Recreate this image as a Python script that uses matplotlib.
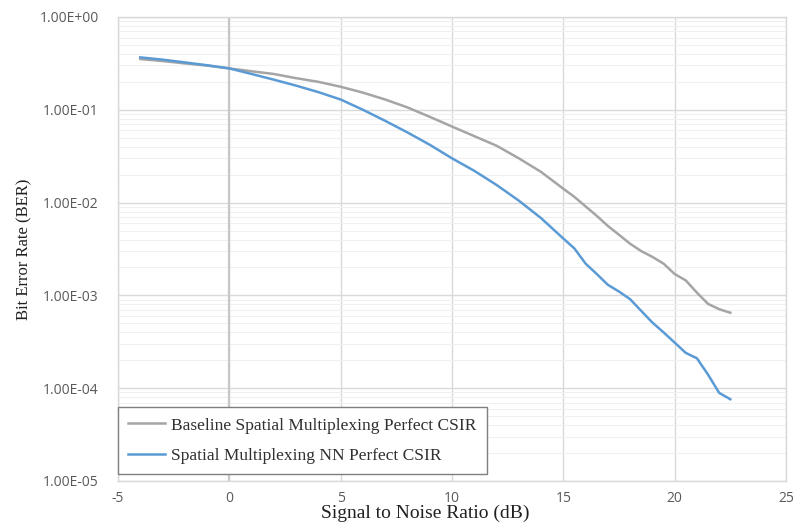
import matplotlib
matplotlib.use('Agg')
import matplotlib.pyplot as plt
from matplotlib.ticker import FixedLocator, LogLocator, NullFormatter, FuncFormatter

plt.rcParams['axes.unicode_minus'] = False

# Donnees (SNR en dB, BER)
snr_db = [-4, -3, -2, -1, 0, 1, 2, 3, 4, 5, 6, 7, 8, 9, 10, 11, 12, 13, 14,
          15, 15.5, 16, 16.5, 17, 17.5, 18, 18.5, 19, 19.5, 20, 20.5, 21, 21.5, 22, 22.5]

ber_baseline = [0.352, 0.335, 0.316, 0.299, 0.279, 0.260, 0.243, 0.219, 0.200, 0.177,
                0.153, 0.129, 0.106, 0.084, 0.066, 0.052, 0.041, 0.030, 0.0214,
                0.0141, 0.0115, 0.0091, 0.0072, 0.0056, 0.0045, 0.0036, 0.0030, 0.0026,
                0.0022, 0.0017, 0.00145, 0.00107, 0.00081, 0.00071, 0.00065]

ber_nn = [0.367, 0.347, 0.324, 0.302, 0.279, 0.243, 0.211, 0.182, 0.155, 0.129,
          0.100, 0.076, 0.057, 0.042, 0.030, 0.022, 0.0155, 0.0105, 0.0068,
          0.0041, 0.0032, 0.0022, 0.0017, 0.0013, 0.0011, 0.00091, 0.00068, 0.00051,
          0.00040, 0.00031, 0.00024, 0.00021, 0.00014, 0.000089, 0.000076]

label_baseline = 'Baseline Spatial Multiplexing Perfect CSIR'
label_nn = 'Spatial Multiplexing NN Perfect CSIR'

x_ticks = [-5, 0, 5, 10, 15, 20, 25]
y_ticks = [1e-5, 1e-4, 1e-3, 1e-2, 1e-1, 1e0]

# Figure
fig = plt.figure(figsize=(7.94, 5.27), dpi=100)
ax = fig.add_axes([0.1486, 0.0873, 0.8413, 0.8805])

ax.set_yscale('log')
ax.set_xlim(-5, 25)
ax.set_ylim(1e-5, 1e0)

# Grilles
ax.xaxis.set_major_locator(FixedLocator(x_ticks))
ax.yaxis.set_major_locator(FixedLocator(y_ticks))
ax.yaxis.set_minor_locator(LogLocator(base=10, subs=range(2, 10), numticks=20))
ax.yaxis.set_minor_formatter(NullFormatter())
ax.yaxis.set_major_formatter(FuncFormatter(lambda v, p: f'{v:.2E}'))

ax.grid(which='major', axis='both', color='#d9d9d9', linewidth=1.0)
ax.grid(which='minor', axis='y', color='#f0f0f0', linewidth=0.8)
ax.axvline(0, color='#c8c8c8', linewidth=1.6, zorder=1)
ax.set_axisbelow(True)

for s in ax.spines.values():
    s.set_color('#d9d9d9')
    s.set_linewidth(1.0)

ax.tick_params(which='both', length=0)
ax.tick_params(axis='y', labelsize=10, labelcolor='#595959', pad=14)
ax.tick_params(axis='x', labelsize=10, labelcolor='#595959', pad=7)
for lbl in ax.get_xticklabels() + ax.get_yticklabels():
    lbl.set_fontfamily('Open Sans')

# Courbes
ax.plot(snr_db, ber_baseline, color='#a5a5a5', linewidth=1.8,
        solid_joinstyle='round', label=label_baseline, zorder=3)
ax.plot(snr_db, ber_nn, color='#5b9bd5', linewidth=1.8,
        solid_joinstyle='round', label=label_nn, zorder=4)

# Titres des axes
ax.set_xlabel('Signal to Noise Ratio (dB)', fontfamily='Liberation Serif',
              fontsize=14, color='#202020')
ax.xaxis.set_label_coords(0.46, -0.05)
ax.set_ylabel('Bit Error Rate (BER)', fontfamily='Liberation Serif',
              fontsize=12, color='#202020')
ax.yaxis.set_label_coords(-0.128, 0.5)

# Legende
leg = ax.legend(loc='lower left', bbox_to_anchor=(0.0, 0.015), borderaxespad=0,
                fancybox=False, framealpha=1, edgecolor='#7f7f7f',
                prop={'family': 'Liberation Serif', 'size': 12.5},
                handlelength=2.1, handletextpad=0.35, labelspacing=0.8,
                borderpad=0.6)
leg.get_frame().set_linewidth(1.0)
for t in leg.get_texts():
    t.set_color('#303030')

fig.savefig('out.png', dpi=100)
